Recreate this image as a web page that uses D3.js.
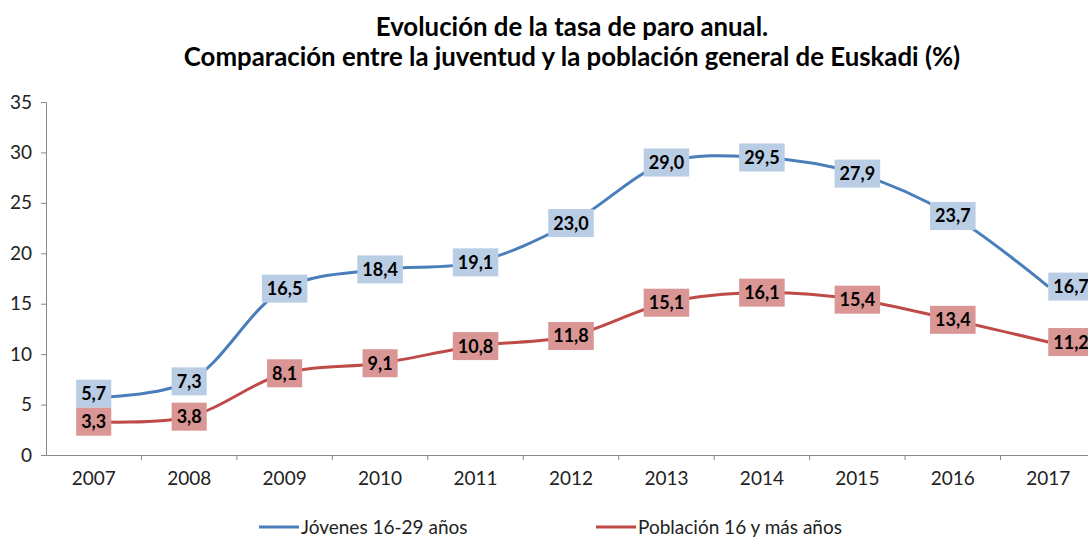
<!DOCTYPE html>
<html>
<head>
<meta charset="utf-8">
<script src="https://cdn.jsdelivr.net/npm/d3@7"></script>
<style>
  body { margin: 0; background: #fff; }
  svg { display: block; font-family: Lato, "Open Sans", sans-serif; }
</style>
</head>
<body>
<div id="chart"></div>
<script>
const years = ["2007", "2008", "2009", "2010", "2011", "2012", "2013", "2014", "2015", "2016", "2017"];
const jovenes = [5.7, 7.3, 16.5, 18.4, 19.1, 23.0, 29.0, 29.5, 27.9, 23.7, 16.7];
const poblacion = [3.3, 3.8, 8.1, 9.1, 10.8, 11.8, 15.1, 16.1, 15.4, 13.4, 11.2];
const yTicks = [0, 5, 10, 15, 20, 25, 30, 35];
const titleLines = ["Evolución de la tasa de paro anual.", "Comparación entre la juventud y la población general de Euskadi (%)"];
const seriesNames = ["Jóvenes 16-29 años", "Población 16 y más años"];

const W = 1088, H = 538;
const margin = { top: 102, right: -8, bottom: 83, left: 46 };

const svg = d3.select("#chart").append("svg")
  .attr("width", W)
  .attr("height", H);

const x = d3.scaleBand()
  .domain(years)
  .range([margin.left, W - margin.right]);

const y = d3.scaleLinear()
  .domain([0, 35])
  .range([H - margin.bottom, margin.top]);

// Title
svg.append("text")
  .attr("x", 572)
  .attr("y", 36)
  .attr("text-anchor", "middle")
  .style("font-size", "25.8px")
  .style("font-weight", "bold")
  .style("fill", "#000")
  .selectAll("tspan")
  .data(titleLines)
  .enter()
  .append("tspan")
  .attr("x", 572)
  .attr("dy", (d, i) => i === 0 ? 0 : 30)
  .text(d => d);

// Axes
const yAxis = svg.append("g")
  .attr("transform", `translate(${margin.left},0)`)
  .call(d3.axisLeft(y).tickValues(yTicks).tickSize(5).tickPadding(9));

const xAxis = svg.append("g")
  .attr("transform", `translate(0,${y(0)})`)
  .call(d3.axisBottom(x).tickSize(0).tickPadding(17));

// band boundary ticks like Excel
svg.append("g")
  .selectAll("line")
  .data(years)
  .enter()
  .append("line")
  .attr("x1", d => x(d) + x.bandwidth())
  .attr("x2", d => x(d) + x.bandwidth())
  .attr("y1", y(0))
  .attr("y2", y(0) + 5)
  .style("stroke", "#868686");

[yAxis, xAxis].forEach(g => {
  g.select(".domain").style("stroke", "#868686");
  g.selectAll(".tick line").style("stroke", "#868686");
  g.selectAll("text")
    .style("font-size", "19px")
    .style("fill", "#222")
    .style("font-family", "Lato, 'Open Sans', sans-serif");
});

// Lines
const series = [
  { name: seriesNames[0], values: jovenes, line: "#4a7ebb", box: "#b9cde5" },
  { name: seriesNames[1], values: poblacion, line: "#be4b48", box: "#d99694" }
];

const line = d3.line()
  .x((d, i) => x(years[i]) + x.bandwidth() / 2)
  .y(d => y(d))
  .curve(d3.curveCatmullRom.alpha(0.5));

series.forEach(s => {
  svg.append("path")
    .datum(s.values)
    .attr("d", line)
    .style("fill", "none")
    .style("stroke", s.line)
    .style("stroke-width", 3);
});

// Data labels
const fmt = v => v.toFixed(1).replace(".", ",");
const boxH = 28;
const boxes = [];

series.forEach((s, si) => {
  s.values.forEach((v, i) => {
    boxes.push({ s: si, i: i, v: v, cx: x(years[i]) + x.bandwidth() / 2, cy: y(v), color: s.box });
  });
});

// nudge overlapping upper labels upwards
years.forEach((yr, i) => {
  const a = boxes.find(b => b.s === 0 && b.i === i);
  const b = boxes.find(b => b.s === 1 && b.i === i);
  const gap = (b.cy - boxH / 2) - (a.cy + boxH / 2);
  if (gap < 0) a.cy += gap;
});

const labels = svg.append("g")
  .selectAll("g")
  .data(boxes)
  .enter()
  .append("g");

labels.append("rect")
  .style("fill", d => d.color);

labels.append("text")
  .attr("text-anchor", "middle")
  .attr("dy", "0.36em")
  .style("font-size", "18px")
  .style("font-weight", "bold")
  .style("fill", "#000")
  .text(d => fmt(d.v));

labels.each(function (d) {
  const g = d3.select(this);
  const w = g.select("text").node().getComputedTextLength() + 10;
  // last point's label sits to the right of the point
  const cx = d.i === years.length - 1 ? d.cx + w / 2 : d.cx;
  g.attr("transform", `translate(${cx},${d.cy})`);
  g.select("rect")
    .attr("x", -w / 2)
    .attr("y", -boxH / 2)
    .attr("width", w)
    .attr("height", boxH);
});

// Legend
const legendPos = [259, 596];
const legend = svg.append("g")
  .selectAll("g")
  .data(series)
  .enter()
  .append("g")
  .attr("transform", (d, i) => `translate(${legendPos[i]},527)`);

legend.append("line")
  .attr("x1", 0)
  .attr("x2", 40)
  .style("stroke", d => d.line)
  .style("stroke-width", 3);

legend.append("text")
  .attr("x", 42)
  .attr("dy", "0.35em")
  .style("font-size", "19px")
  .style("fill", "#222")
  .text(d => d.name);
</script>
</body>
</html>
